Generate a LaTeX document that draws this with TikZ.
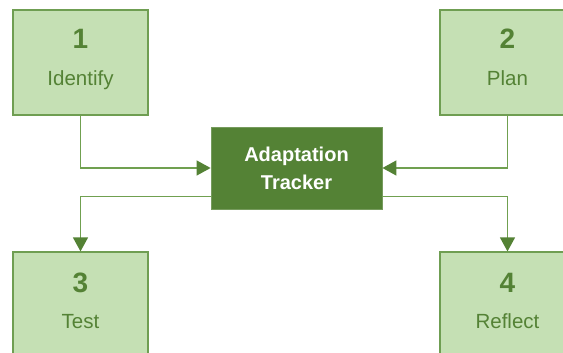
\documentclass[tikz,border=0pt]{standalone}
\usepackage{fontspec}
\setmainfont{Liberation Sans}
\usetikzlibrary{arrows.meta}
\definecolor{lightfill}{HTML}{C5E0B4}
\definecolor{boxborder}{HTML}{6F9E52}
\definecolor{darkgreen}{HTML}{548235}
\definecolor{linegreen}{HTML}{70A050}
\tikzset{
  stepbox/.style={draw=boxborder, line width=1.2pt, fill=lightfill, minimum width=135pt, minimum height=105pt, inner sep=0pt},
  numtext/.style={anchor=base, text=darkgreen, font=\fontsize{28}{30}\selectfont\bfseries, inner sep=0pt},
  labtext/.style={anchor=base, text=darkgreen, font=\fontsize{20.5}{24}\selectfont, inner sep=0pt},
  hub/.style={fill=darkgreen, draw=darkgreen!80!white, line width=0.8pt, minimum width=171pt, minimum height=82pt, text=white, align=center, font=\fontsize{20}{28}\selectfont\bfseries, inner sep=0pt},
  conn/.style={draw=linegreen, line width=1.3pt, -{Triangle[length=14pt, width=15pt, color=darkgreen]}}
}
\begin{document}
\begin{tikzpicture}[x=1pt, y=-1pt]
\path[use as bounding box] (0,0) rectangle (563,353);
\begin{scope}
\clip (0,0) rectangle (563,353);
\node[stepbox] (box1) at (80.5,62.5) {};
\node[stepbox] (box2) at (507.5,62.5) {};
\node[stepbox] (box3) at (80.5,304.5) {};
\node[stepbox] (box4) at (507.5,304.5) {};
\node[numtext] (n1) at (80.5,49) {1};
\node[labtext] (l1) at (80.5,86) {Identify};
\node[numtext] (n2) at (507.5,49) {2};
\node[labtext] (l2) at (507.5,86) {Plan};
\node[numtext] (n3) at (80.5,292) {3};
\node[labtext] (l3) at (80.5,328) {Test};
\node[numtext] (n4) at (507.5,292) {4};
\node[labtext] (l4) at (507.5,328) {Reflect};
\node[hub] (tracker) at (296.5,168) {Adaptation\\Tracker};
\draw[conn] (box1.south) |- (tracker.west);
\draw[conn] (box2.south) |- (tracker.east);
\draw[conn] ([yshift=13pt]tracker.south west) -| (box3.north);
\draw[conn] ([yshift=13pt]tracker.south east) -| (box4.north);
\end{scope}
\end{tikzpicture}
\end{document}
